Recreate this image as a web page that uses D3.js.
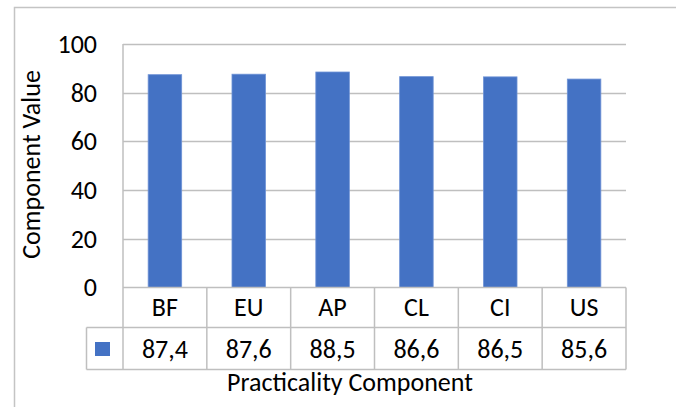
<!DOCTYPE html>
<html>
<head>
<meta charset="utf-8">
<script src="https://cdn.jsdelivr.net/npm/d3@7"></script>
<style>
  html, body { margin: 0; padding: 0; background: #fff; }
  svg { display: block; }
  text { font-family: Carlito, Calibri, Lato, "Open Sans", sans-serif; fill: #000; }
</style>
</head>
<body>
<svg id="chart" width="676" height="407"></svg>
<script>
const categories = ["BF", "EU", "AP", "CL", "CI", "US"];
const values = [87.4, 87.6, 88.5, 86.6, 86.5, 85.6];
const valueLabels = ["87,4", "87,6", "88,5", "86,6", "86,5", "85,6"];
const yTicks = [0, 20, 40, 60, 80, 100];
const xTitle = "Practicality Component";
const yTitle = "Component Value";

(function () {
const svg = d3.select("#chart");
const W = 676, H = 407;
const pLeft = 123, pRight = 626, pTop = 44, pBottom = 287.5;
const row1 = 327.5, row2 = 369.5, legendLeft = 86.5;
const gridColor = "#bfbfbf";
const barColor = "#4472C4";
const FONT = "Carlito, Calibri, Lato, 'Open Sans', sans-serif";
const FS = 26;

// outer frame
svg.append("path")
  .attr("d", `M14.5,${H + 2} V7.5 H${W + 2}`)
  .attr("fill", "none").attr("stroke", "#c4c4c4").attr("stroke-width", 1.5);

const x = d3.scaleBand().domain(categories).range([pLeft, pRight]).paddingInner(0.6).paddingOuter(0.3);
const xCell = d3.scaleBand().domain(categories).range([pLeft, pRight]);
const y = d3.scaleLinear().domain([0, 100]).range([pBottom, pTop]);

// gridlines
svg.append("g").selectAll("line").data(yTicks.filter(t => t > 0)).join("line")
  .attr("x1", pLeft).attr("x2", pRight)
  .attr("y1", d => Math.round(y(d)) + 0.5).attr("y2", d => Math.round(y(d)) + 0.5)
  .attr("stroke", gridColor).attr("stroke-width", 1.3);

// y tick labels via axis
const yAxis = svg.append("g").attr("transform", `translate(${pLeft},0)`)
  .call(d3.axisLeft(y).tickValues(yTicks).tickSize(0).tickPadding(26).tickFormat(d3.format("d")));
yAxis.select(".domain").remove();
yAxis.selectAll("text").attr("font-size", FS).style("font-family", FONT).attr("fill", "#000");

// bars
svg.append("g").selectAll("rect").data(categories).join("rect")
  .attr("x", d => x(d))
  .attr("width", x.bandwidth())
  .attr("y", (d, i) => y(values[i]))
  .attr("height", (d, i) => y(0) - y(values[i]))
  .attr("fill", barColor)
  .attr("stroke", "#6f93d6").attr("stroke-width", 0.8);

// table lines
const g = svg.append("g").attr("stroke", gridColor).attr("stroke-width", 1.5).attr("fill", "none");
g.append("line").attr("x1", pLeft).attr("x2", pRight).attr("y1", pBottom).attr("y2", pBottom);
g.append("line").attr("x1", legendLeft).attr("x2", pRight).attr("y1", row1).attr("y2", row1);
g.append("line").attr("x1", legendLeft).attr("x2", pRight).attr("y1", row2).attr("y2", row2);
g.append("line").attr("x1", legendLeft).attr("x2", legendLeft).attr("y1", row1).attr("y2", row2);
g.append("line").attr("x1", pLeft).attr("x2", pLeft).attr("y1", pTop).attr("y2", row2);
g.selectAll(".sep").data(categories).join("line").attr("class", "sep")
  .attr("x1", d => xCell(d) + xCell.bandwidth()).attr("x2", d => xCell(d) + xCell.bandwidth())
  .attr("y1", pBottom).attr("y2", row2);

// category labels
svg.append("g").selectAll("text").data(categories).join("text")
  .attr("x", d => xCell(d) + xCell.bandwidth() / 2)
  .attr("y", (pBottom + row1) / 2)
  .attr("dy", "0.34em")
  .attr("text-anchor", "middle").attr("font-size", FS)
  .text(d => d);

// value labels
svg.append("g").selectAll("text").data(categories).join("text")
  .attr("x", d => xCell(d) + xCell.bandwidth() / 2)
  .attr("y", (row1 + row2) / 2 + 1)
  .attr("dy", "0.34em")
  .attr("text-anchor", "middle").attr("font-size", FS)
  .text((d, i) => valueLabels[i]);

// legend key
svg.append("rect").attr("x", 95).attr("y", 342).attr("width", 15).attr("height", 14).attr("fill", barColor);

// axis titles
svg.append("text").attr("x", 350).attr("y", 391).attr("text-anchor", "middle").attr("font-size", FS).text(xTitle);
svg.append("text").attr("transform", "translate(40,164.5) rotate(-90)").attr("text-anchor", "middle").attr("font-size", FS).text(yTitle);
})();
</script>
</body>
</html>
